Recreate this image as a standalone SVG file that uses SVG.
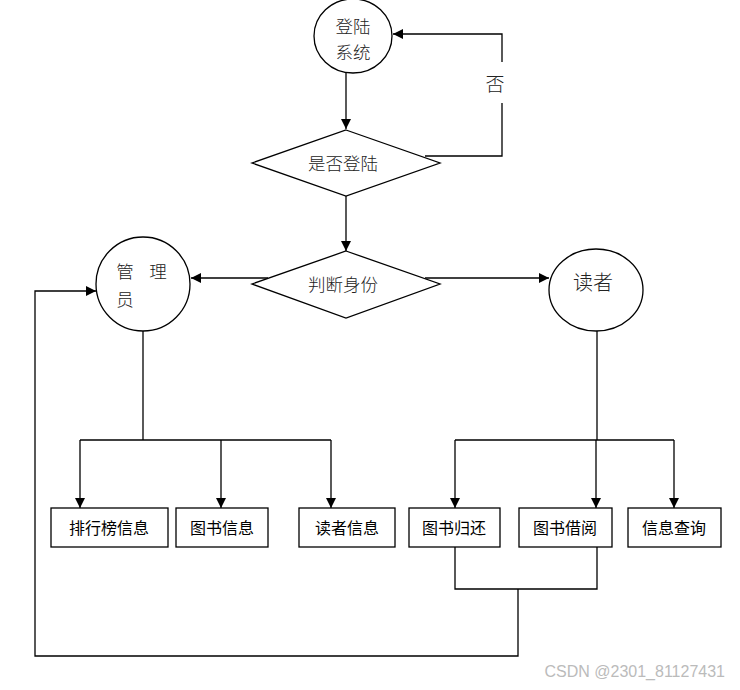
<svg xmlns="http://www.w3.org/2000/svg" width="740" height="690" viewBox="0 0 740 690">
<defs>
<marker id="ah" viewBox="0 0 10 10" refX="10" refY="5" markerWidth="10" markerHeight="10" markerUnits="userSpaceOnUse" orient="auto">
<path d="M0,0 L10,5 L0,10 z" fill="#000"/>
</marker>
<style>
.s{fill:#fff;stroke:#000;stroke-width:1.3}
.c{fill:none;stroke:#000;stroke-width:1.3}
.t{font-family:"Noto Sans CJK SC","Liberation Serif",serif;font-size:17.5px;font-weight:300;fill:#222;text-anchor:middle;dominant-baseline:central}
.b{font-family:"Noto Sans CJK SC","Liberation Sans",sans-serif;font-size:16px;fill:#000;text-anchor:middle;dominant-baseline:central}
</style>
</defs>
<rect width="740" height="690" fill="#fff"/>
<g id="connectors">
<path class="c" d="M346,73 V129" marker-end="url(#ah)"/>
<path class="c" d="M425,156 H502 V103 M502,62 V34 H393" marker-end="url(#ah)"/>
<path class="c" d="M346,196 V251" marker-end="url(#ah)"/>
<path class="c" d="M268,278 H191" marker-end="url(#ah)"/>
<path class="c" d="M425,278 H549" marker-end="url(#ah)"/>
<path class="c" d="M143,331 V440"/>
<path class="c" d="M80,440 H331"/>
<path class="c" d="M80,440 V508" marker-end="url(#ah)"/>
<path class="c" d="M221,440 V508" marker-end="url(#ah)"/>
<path class="c" d="M331,440 V508" marker-end="url(#ah)"/>
<path class="c" d="M597,331 V440"/>
<path class="c" d="M455,440 H674"/>
<path class="c" d="M455,440 V508" marker-end="url(#ah)"/>
<path class="c" d="M596,440 V508" marker-end="url(#ah)"/>
<path class="c" d="M674,440 V508" marker-end="url(#ah)"/>
<path class="c" d="M455,547 V589 H597 V547"/>
<path class="c" d="M518,589 V656 H35 V291 H96" marker-end="url(#ah)"/>
<text class="t" x="495" y="82" style="font-size:19px">否</text>
</g>
<g id="login">
<ellipse class="s" cx="353" cy="36" rx="39" ry="37"/>
<text class="t" x="353" y="25">登陆</text>
<text class="t" x="353" y="51">系统</text>
</g>
<g id="check">
<polygon class="s" points="346,130 440,163 346,196 252,163"/>
<text class="t" x="343" y="162">是否登陆</text>
</g>
<g id="identity">
<polygon class="s" points="346,251 440,284 346,318 252,284"/>
<text class="t" x="343" y="283">判断身份</text>
</g>
<g id="admin">
<circle class="s" cx="143" cy="284" r="47"/>
<text class="t" x="125" y="270">管</text>
<text class="t" x="158" y="270">理</text>
<text class="t" x="125" y="298">员</text>
</g>
<g id="reader">
<ellipse class="s" cx="596" cy="290" rx="47" ry="41"/>
<text class="t" x="593" y="281" style="font-size:20px">读者</text>
</g>
<g id="rank">
<rect class="s" x="51" y="508" width="117" height="39"/>
<text class="b" x="109" y="527">排行榜信息</text>
</g>
<g id="bookinfo">
<rect class="s" x="176" y="508" width="92" height="39"/>
<text class="b" x="222" y="527">图书信息</text>
</g>
<g id="readerinfo">
<rect class="s" x="299" y="508" width="96" height="39"/>
<text class="b" x="347" y="527">读者信息</text>
</g>
<g id="return">
<rect class="s" x="409" y="508" width="91" height="39"/>
<text class="b" x="454" y="527">图书归还</text>
</g>
<g id="borrow">
<rect class="s" x="519" y="508" width="93" height="39"/>
<text class="b" x="565" y="527">图书借阅</text>
</g>
<g id="query">
<rect class="s" x="628" y="508" width="93" height="39"/>
<text class="b" x="674" y="527">信息查询</text>
</g>
<text x="725" y="677" style="font-family:'Liberation Sans',sans-serif;font-size:16px;fill:#bbb;text-anchor:end">CSDN @2301_81127431</text>
</svg>
